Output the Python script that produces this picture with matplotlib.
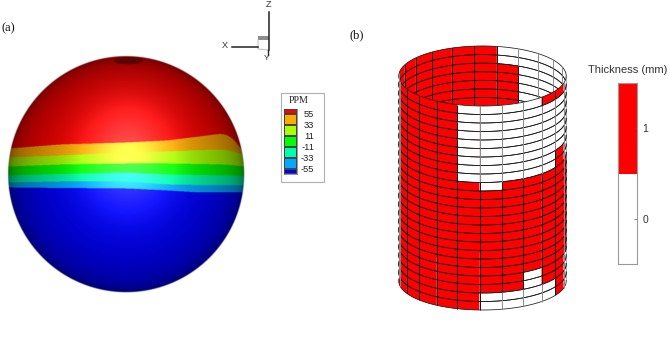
import numpy as np
import matplotlib
matplotlib.use("Agg")
import matplotlib.pyplot as plt
from matplotlib.collections import PolyCollection, LineCollection
from matplotlib.patches import Ellipse, Rectangle

W, H = 669, 363
SERIF = "Liberation Serif"
SANS = "Liberation Sans"

# Panel (a): PPM colour levels and the contour boundaries
ppm_edges = [-66, -55, -33, -11, 11, 33, 55, 66]
ppm_ticks = [55, 33, 11, -11, -33, -55]
ppm_colors = ["#0000ff", "#00aaff", "#00ffaa", "#00ff00", "#aaff00", "#ffaa00", "#ff0000"]
boundary_x = [10, 60, 127, 167, 200, 223, 233, 243]
b_55 = [149, 145, 143, 141, 137, 134, 138, 153]
b_33 = [158, 156, 153, 152, 150.5, 150, 152, 155]
b_11 = [167, 165, 164, 164, 164.5, 165, 165.5, 167]
b_m11 = [176, 174.5, 173, 175, 175.5, 176, 176, 177]
b_m33 = [183, 182, 182, 185, 185.5, 185.5, 185.5, 186]
b_m55 = [188, 188.5, 189, 191, 193, 193, 193, 193]

# Panel (b): shell thickness per (row, column)
thickness_rows = [
    "11111000011000000111111",
    "11111000000000000111111",
    "11111000000000001111111",
    "11111000000000001111111",
    "11111000000000001111111",
    "11111000000000001111111",
    "11111000000000001111111",
    "11111000001000001111111",
    "11111000001000001111111",
    "11111101111100001111111",
    "11111111111100001111111",
    "11111111111100001111111",
    "11111111111100001111111",
    "11111111111100001111111",
    "11111111111100001111111",
    "11111111111100001111111",
    "11111111111100001111111",
    "11111111111100001111111",
    "11111111111100001111111",
    "11111111111100001111111",
    "11111111011000001111111",
    "11111111011000001111111",
    "11111100001000001111111",
    "11111100001000001111111",
]
thickness_edges = [-0.5, 0.5, 1.5]
thickness_ticks = [0, 1]
thickness_colors = ["#ffffff", "#ff0000"]

plt.rcParams["font.family"] = SANS
fig = plt.figure(figsize=(W / 100, H / 100), dpi=100, facecolor="white")


def px_axes(x0, y0, x1, y1, **kw):
    return fig.add_axes([x0 / W, 1 - y1 / H, (x1 - x0) / W, (y1 - y0) / H], **kw)


main = px_axes(0, 0, W, H)
main.set_xlim(0, W)
main.set_ylim(H, 0)
main.axis("off")

# ---------- sphere ----------
cx, cy, R = 126.2, 174.7, 118.0
ss = 3
xs = np.arange(cx - R - 2, cx + R + 2, 1 / ss)
ys = np.arange(cy - R - 2, cy + R + 2, 1 / ss)
X, Y = np.meshgrid(xs, ys)
u, v = (X - cx) / R, (Y - cy) / R
r2 = u**2 + v**2
nz = np.sqrt(np.clip(1 - r2, 0, 1))
kernel = np.exp(-0.5 * (np.arange(-30, 31) / (4.0 * ss)) ** 2)
kernel /= kernel.sum()
levels = np.zeros_like(X, dtype=int)
for b in [b_55, b_33, b_11, b_m11, b_m33, b_m55]:
    curve = np.interp(xs, boundary_x, b)
    curve = np.convolve(np.pad(curve, 30, mode="edge"), kernel, mode="valid")
    levels += Y > curve[None, :]
order = list(reversed(ppm_colors))
pal = np.array([matplotlib.colors.to_rgb(c) for c in order])
rgb = pal[levels]
diff = 0.36 + 0.54 * nz**0.8
spec = 0.32 * np.exp(-0.5 * (((X - 128) / 30) ** 2 + ((Y - 157) / 34) ** 2))
img = np.clip(rgb * (diff + 0.5 * spec)[..., None] + spec[..., None], 0, 1)
alpha = np.clip((1 - np.sqrt(r2)) * R + 0.5, 0, 1)
main.imshow(np.dstack([img, alpha]), extent=(xs[0], xs[-1], ys[-1], ys[0]),
            interpolation="bilinear", zorder=1, aspect="auto")
main.set_xlim(0, W)
main.set_ylim(H, 0)
main.add_patch(Ellipse((128.5, 60.8), 29, 7, fc="#5e0000", ec="none", zorder=2))

# ---------- axis triad ----------
main.add_patch(Rectangle((258, 36), 11, 4, fc="#8c8c8c", ec="none", zorder=2))
main.plot([258, 258, 268], [40, 49, 50], color="#c4c4c4", lw=0.8, zorder=2)
main.plot([269.3, 269.3], [12, 50], color="#222222", lw=1.1, zorder=3)
main.plot([232, 258], [47, 47], color="#222222", lw=1.1, zorder=3)
main.plot([268, 268], [50, 55], color="#222222", lw=1.0, zorder=3)
main.text(269, 4.5, "Z", ha="center", va="center", fontsize=6.5, color="#333333")
main.text(224.5, 46, "X", ha="center", va="center", fontsize=6.5, color="#333333")
main.text(267, 58, "Y", ha="center", va="center", fontsize=6.0, color="#333333")

# ---------- panel labels ----------
main.text(2, 28, "(a)", family=SERIF, fontsize=9, ha="left", va="center", color="#111111")
main.text(350, 35, "(b)", family=SERIF, fontsize=9, ha="left", va="center", color="#111111")

# ---------- PPM legend ----------
main.add_patch(Rectangle((280.5, 92.5), 43.5, 89.5, fc="white", ec="#b0b0b0", lw=0.8, zorder=2))
main.text(299, 100.5, "PPM", family=SERIF, fontsize=7.2, ha="center", va="center", color="#222222")
leg = px_axes(284, 108.5, 297, 174, facecolor="none")
leg.pcolormesh([0, 1], ppm_edges, np.arange(7).reshape(-1, 1),
               cmap=matplotlib.colors.ListedColormap(ppm_colors), edgecolors="#444444", linewidth=0.3)
leg.set_ylim(ppm_edges[0], ppm_edges[-1])
leg.set_xticks([])
leg.yaxis.tick_right()
leg.set_yticks(ppm_ticks)
leg.set_yticklabels([str(t) for t in ppm_ticks], fontsize=6.7, color="#222222", ha="right")
leg.tick_params(axis="y", length=0, pad=12.4)
for s in leg.spines.values():
    s.set_linewidth(0.4)
    s.set_color("#444444")

# ---------- cylinder ----------
cyl_cx, cyl_a = 482.5, 83.7
top_cy, top_b = 76.0, 30.0
bot_cy, bot_b = 281.0, 29.0
n_rows = len(thickness_rows)
n_cols = len(thickness_rows[0])
theta0 = np.deg2rad(-95.9)
dth = 2 * np.pi / n_cols


def project(th, r):
    t = r / n_rows
    return (cyl_cx + cyl_a * np.sin(th),
            top_cy + (bot_cy - top_cy) * t + (top_b + (bot_b - top_b) * t) * np.cos(th))


sets = {"back": ([], [], [], []), "front": ([], [], [], [])}
for j in range(n_cols):
    th = np.linspace(theta0 + j * dth, theta0 + (j + 1) * dth, 7)
    side = "front" if np.cos(th.mean()) > 0 else "back"
    polys, cols, hseg, vseg = sets[side]
    silhouette = abs(np.sin(th[0])) > 0.97
    for i in range(n_rows):
        val = int(thickness_rows[i][j])
        xa, ya = project(th, i)
        xb, yb = project(th, i + 1)
        polys.append(np.c_[np.r_[xa, xb[::-1]], np.r_[ya, yb[::-1]]])
        cols.append(thickness_colors[val])
        hseg.append(np.c_[xa, ya])
        hseg.append(np.c_[xb, yb])
        left = int(thickness_rows[i][(j - 1) % n_cols])
        vcol = "#8a8a8a" if (silhouette or not (val or left)) else "#111111"
        vseg.append((np.array([[xa[0], ya[0]], [xb[0], yb[0]]]), vcol))
for side, z in (("back", 3), ("front", 5)):
    polys, cols, hseg, vseg = sets[side]
    main.add_collection(PolyCollection(polys, facecolors=cols, edgecolors=cols, linewidths=0.15, zorder=z))
    main.add_collection(LineCollection(hseg, colors="#1a1a1a", linewidths=0.55, zorder=z + 1))
    main.add_collection(LineCollection([s for s, _ in vseg], colors=[c for _, c in vseg],
                                       linewidths=0.7, zorder=z + 1))

# ---------- thickness colour bar ----------
cb = px_axes(618, 83, 637, 264)
cb.pcolormesh([0, 1], thickness_edges, np.array([[0], [1]]),
              cmap=matplotlib.colors.ListedColormap(thickness_colors))
cb.set_ylim(thickness_edges[0], thickness_edges[-1])
cb.set_xticks([])
cb.yaxis.tick_right()
cb.set_yticks(thickness_ticks)
cb.set_yticklabels([str(t) for t in thickness_ticks], fontsize=7.5, color="#333333")
cb.tick_params(axis="y", direction="in", length=2, width=0.5, color="#555555", pad=4)
for s in cb.spines.values():
    s.set_linewidth(0.8)
    s.set_color("#9a9a9a")
main.text(627.5, 70, "Thickness (mm)", fontsize=8.0, ha="center", va="center", color="#333333")

fig.savefig("out.png", dpi=100)
